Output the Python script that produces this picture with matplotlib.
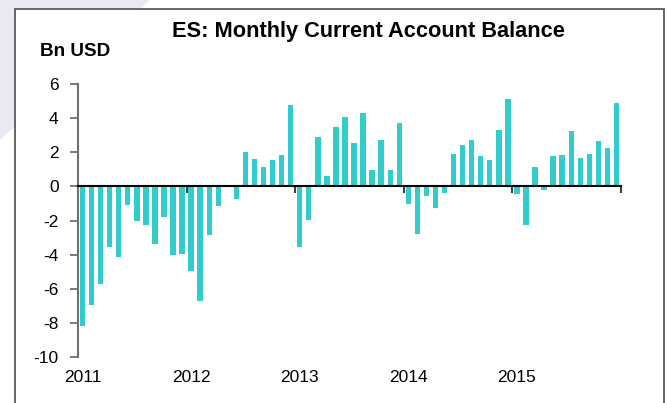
import matplotlib
matplotlib.use("Agg")
import matplotlib.pyplot as plt
from matplotlib.patches import Polygon, Rectangle
import matplotlib.transforms as mtransforms

plt.rcParams['font.family'] = ['Liberation Sans', 'DejaVu Sans']

# Monthly data Jan 2011 - Dec 2015 (Bn USD)
values_2011 = [-8.2, -6.95, -5.7, -3.55, -4.15, -1.1, -2.0, -2.25, -3.4, -1.8, -4.05, -3.95]
values_2012 = [-4.95, -6.7, -2.85, -1.15, 0.0, -0.72, 2.0, 1.63, 1.15, 1.54, 1.82, 4.75]
values_2013 = [-3.54, -1.99, 2.87, 0.59, 3.46, 4.06, 2.54, 4.28, 0.94, 2.71, 0.98, 3.71]
values_2014 = [-1.05, -2.79, -0.59, -1.25, -0.37, 1.88, 2.40, 2.71, 1.76, 1.56, 3.30, 5.12]
values_2015 = [-0.47, -2.25, 1.11, -0.23, 1.76, 1.86, 3.22, 1.66, 1.89, 2.64, 2.25, 4.88]
years = ['2011', '2012', '2013', '2014', '2015']
values = values_2011 + values_2012 + values_2013 + values_2014 + values_2015
y_ticks = [-10, -8, -6, -4, -2, 0, 2, 4, 6]

W, H = 668, 403
fig = plt.figure(figsize=(W / 100, H / 100), dpi=100)
fig.patch.set_facecolor('white')

# page background decoration
bg = Polygon([(0, 1), (150 / W, 1), (0, 1 - 140 / H)], closed=True,
             transform=fig.transFigure, facecolor='#E9E9F3', edgecolor='none', zorder=-3)
fig.patches.append(bg)
box = Rectangle((14.5 / W, -0.05), (663.5 - 14.5) / W, 1.05 - 8.5 / H,
                transform=fig.transFigure, facecolor='white', edgecolor='#5a5a5a',
                linewidth=1.3, zorder=-2)
fig.patches.append(box)

ax = fig.add_axes([78 / W, 1 - 357 / H, (621 - 78) / W, (357 - 84) / H])
ax.set_facecolor('none')
x = list(range(len(values)))
ax.bar(x, values, width=0.6, color='#33CCCC', zorder=3)

ax.set_xlim(-0.5, len(values) - 0.5)
ax.set_ylim(-10, 6)
ax.set_yticks(y_ticks)
ax.set_yticklabels([str(v) for v in y_ticks], fontsize=12.5)
ax.tick_params(axis='y', direction='out', length=6, width=1.3, color='#707070', pad=8)

for s in ['top', 'right']:
    ax.spines[s].set_visible(False)
ax.spines['left'].set_color('#707070')
ax.spines['left'].set_linewidth(1.5)
ax.spines['bottom'].set_position(('data', 0))
ax.spines['bottom'].set_color('black')
ax.spines['bottom'].set_linewidth(1.5)
ax.spines['bottom'].set_zorder(4)

ax.set_xticks([-0.5 + 12 * i for i in range(len(years) + 1)])
ax.set_xticklabels([])
ax.tick_params(axis='x', direction='out', length=5, width=1.5, color='#404040')

trans = mtransforms.blended_transform_factory(ax.transData, ax.transAxes)
for i, yr in enumerate(years):
    ax.text(12 * i, -0.075, yr, transform=trans, ha='center', va='center', fontsize=12.5)

fig.text(368 / W, 1 - 32 / H, 'ES: Monthly Current Account Balance', ha='center', va='center',
         fontsize=15.7, fontweight='bold')
fig.text(40 / W, 1 - 51 / H, 'Bn USD', ha='left', va='center', fontsize=13.6, fontweight='bold')

fig.savefig('out.png', dpi=100)
